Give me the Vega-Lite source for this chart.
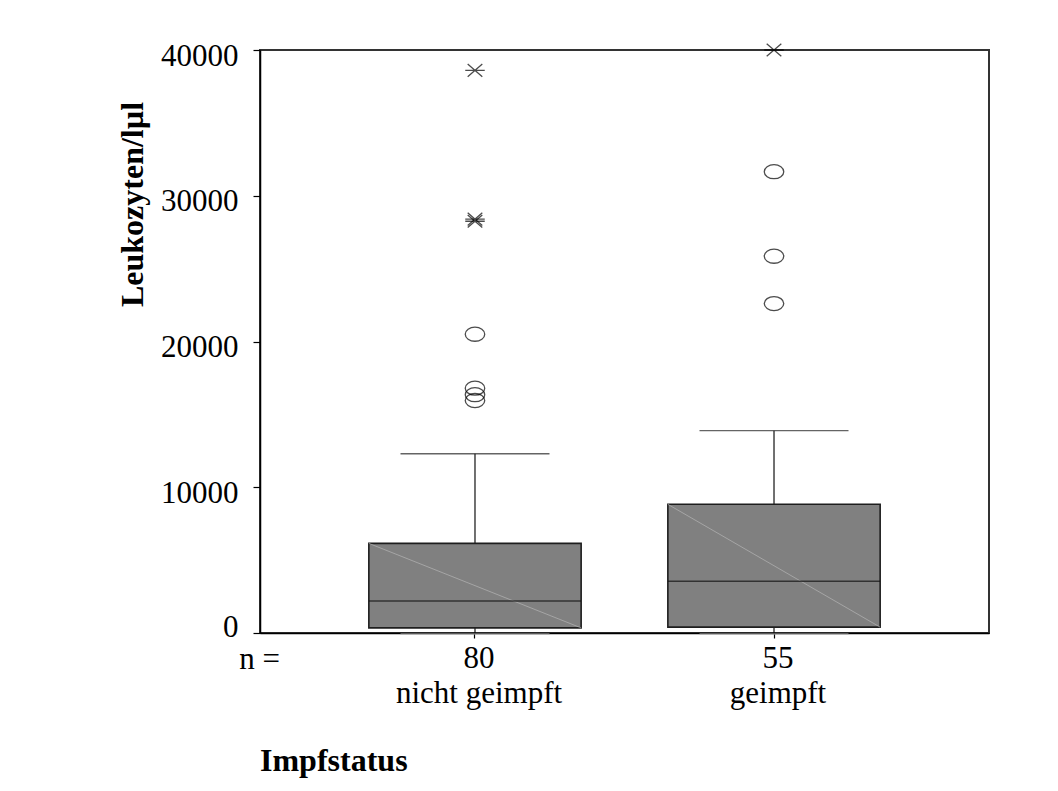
{
  "$schema": "https://vega.github.io/schema/vega-lite/v6.json",
  "width": 729,
  "height": 583,
  "autosize": "none",
  "padding": {"left": 260, "top": 50, "right": 69, "bottom": 158},
  "background": "white",
  "title": {
    "text": "Impfstatus",
    "orient": "bottom",
    "anchor": "start",
    "frame": "group",
    "offset": 38,
    "font": "Liberation Serif",
    "fontSize": 32,
    "fontWeight": "bold",
    "color": "black"
  },
  "datasets": {
    "boxen": [
      {"gruppe": "nicht geimpft", "n": 80, "unten": 0, "q1": 350, "median": 2200, "q3": 6150, "oben": 12300},
      {"gruppe": "geimpft", "n": 55, "unten": 0, "q1": 400, "median": 3550, "q3": 8830, "oben": 13880}
    ],
    "ausreisser": [
      {"gruppe": "nicht geimpft", "wert": 38600, "art": "Extremwert"},
      {"gruppe": "nicht geimpft", "wert": 28400, "art": "Extremwert"},
      {"gruppe": "nicht geimpft", "wert": 28250, "art": "Extremwert"},
      {"gruppe": "nicht geimpft", "wert": 20500, "art": "Ausreißer"},
      {"gruppe": "nicht geimpft", "wert": 16800, "art": "Ausreißer"},
      {"gruppe": "nicht geimpft", "wert": 16350, "art": "Ausreißer"},
      {"gruppe": "nicht geimpft", "wert": 15950, "art": "Ausreißer"},
      {"gruppe": "geimpft", "wert": 40000, "art": "Extremwert"},
      {"gruppe": "geimpft", "wert": 31650, "art": "Ausreißer"},
      {"gruppe": "geimpft", "wert": 25850, "art": "Ausreißer"},
      {"gruppe": "geimpft", "wert": 22600, "art": "Ausreißer"}
    ]
  },
  "encoding": {
    "x": {
      "field": "gruppe",
      "type": "nominal",
      "sort": ["nicht geimpft", "geimpft"],
      "scale": {"paddingInner": 0, "paddingOuter": 0.219},
      "axis": {
        "title": "n =",
        "titleFont": "Liberation Serif",
        "titleFontSize": 31,
        "titleFontWeight": "normal",
        "titleColor": "black",
        "titleAlign": "center",
        "titleBaseline": "alphabetic",
        "titleX": -1,
        "titleY": 35,
        "labelAngle": 0,
        "labelExpr": "[datum.value === 'nicht geimpft' ? '80' : '55', datum.value]",
        "labelFont": "Liberation Serif",
        "labelFontSize": 31,
        "labelLineHeight": 35,
        "labelBaseline": "top",
        "labelPadding": 5,
        "labelOffset": 4,
        "labelColor": "black",
        "tickSize": 5,
        "tickColor": "black",
        "tickWidth": 1.2,
        "domainColor": "black",
        "domainWidth": 1.5
      }
    }
  },
  "layer": [
    {
      "data": {"name": "boxen"},
      "mark": {"type": "rule", "color": "#111", "strokeWidth": 1.2},
      "encoding": {
        "y": {
          "field": "q3",
          "type": "quantitative",
          "title": "Leukozyten/lµl",
          "scale": {"domain": [0, 40000], "nice": false, "zero": true},
          "axis": {
            "values": [0, 10000, 20000, 30000, 40000],
            "grid": false,
            "format": "d",
            "labelFont": "Liberation Serif",
            "labelFontSize": 31,
            "labelColor": "black",
            "labelPadding": 15,
            "labelOffset": {"condition": {"test": "datum.value === 0", "value": -6}, "value": 6},
            "tickSize": 7,
            "tickColor": "black",
            "tickWidth": 1.2,
            "domainColor": "black",
            "domainWidth": 1.5,
            "titleFont": "Liberation Serif",
            "titleFontSize": 32,
            "titleFontWeight": "bold",
            "titleColor": "black",
            "titleAngle": -90,
            "titleAlign": "center",
            "titleBaseline": "middle",
            "titleX": -128,
            "titleY": 154
          }
        },
        "y2": {"field": "oben"}
      }
    },
    {
      "data": {"name": "boxen"},
      "mark": {"type": "rule", "color": "#111", "strokeWidth": 1.2},
      "encoding": {
        "y": {"field": "unten", "type": "quantitative", "title": "Leukozyten/lµl"},
        "y2": {"field": "q1"}
      }
    },
    {
      "data": {"name": "boxen"},
      "mark": {"type": "tick", "color": "#222", "size": 149, "thickness": 1.3},
      "encoding": {
        "y": {"field": "oben", "type": "quantitative", "title": "Leukozyten/lµl"}
      }
    },
    {
      "data": {"name": "boxen"},
      "mark": {"type": "tick", "color": "#aaa", "size": 149, "thickness": 1.3, "yOffset": 1},
      "encoding": {
        "y": {"field": "unten", "type": "quantitative", "title": "Leukozyten/lµl"}
      }
    },
    {
      "data": {"name": "boxen"},
      "mark": {"type": "bar", "width": {"band": 0.71}, "fill": "#808080", "stroke": "#1e1e1e", "strokeWidth": 1.6},
      "encoding": {
        "y": {"field": "q1", "type": "quantitative", "title": "Leukozyten/lµl"},
        "y2": {"field": "q3"}
      }
    },
    {
      "data": {"name": "boxen"},
      "mark": {"type": "rule", "color": "#b4b4b4", "strokeWidth": 0.7},
      "encoding": {
        "x": {"field": "gruppe", "type": "nominal", "sort": ["nicht geimpft", "geimpft"], "bandPosition": 0.145},
        "x2": {"field": "gruppe", "bandPosition": 0.855},
        "y": {"field": "q3", "type": "quantitative", "title": "Leukozyten/lµl"},
        "y2": {"field": "q1"}
      }
    },
    {
      "data": {"name": "boxen"},
      "mark": {"type": "tick", "color": "#111", "size": 212, "thickness": 1.4},
      "encoding": {
        "y": {"field": "median", "type": "quantitative", "title": "Leukozyten/lµl"}
      }
    },
    {
      "data": {"name": "ausreisser"},
      "mark": {"type": "point", "filled": false, "stroke": "black", "strokeWidth": 1.3, "size": 380, "clip": false},
      "encoding": {
        "y": {"field": "wert", "type": "quantitative", "title": "Leukozyten/lµl"},
        "shape": {
          "field": "art",
          "type": "nominal",
          "scale": {
            "domain": ["Ausreißer", "Extremwert"],
            "range": [
              "M-1,0A1,0.72,0,1,1,1,0A1,0.72,0,1,1,-1,0Z",
              "M-1,0L1,0M-0.75,-0.65L0.75,0.65M-0.75,0.65L0.75,-0.65"
            ]
          },
          "legend": null
        }
      }
    }
  ],
  "config": {
    "view": {"stroke": "#333", "strokeWidth": 2},
    "font": "Liberation Serif"
  }
}
